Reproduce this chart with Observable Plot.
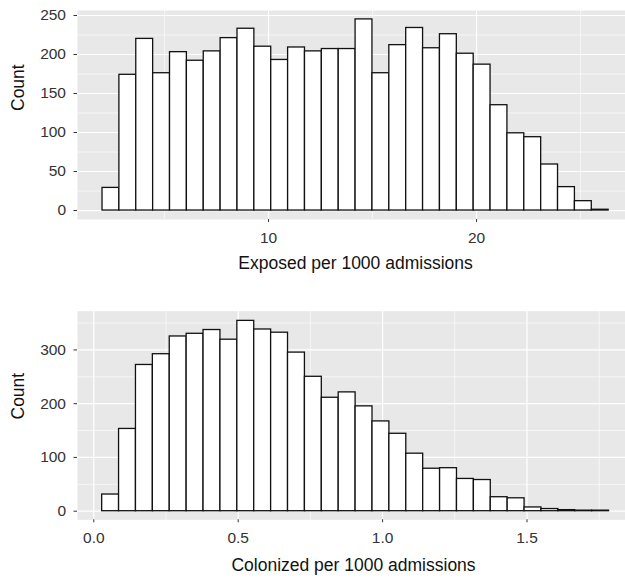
<!DOCTYPE html>
<html><head><meta charset="utf-8">
<script src="https://cdn.jsdelivr.net/npm/d3@7"></script>
<script src="https://cdn.jsdelivr.net/npm/@observablehq/plot@0.6"></script>
<style>body{margin:0;background:#fff} #chart svg{display:block}</style>
</head><body><div id="chart"></div>
<script>
const exposedCounts = [29,174,220,176,203,192,204,221,233,210,193,209,204,207,207,245,176,212,234,208,226,201,187,135,99,94,59,30,12,1];
const exposedBinStart = 2.02;
const exposedBinWidth = 0.811;
const exposedXTicks = [10, 20];
const exposedXMinor = [5, 15, 25];
const exposedYTicks = [0, 50, 100, 150, 200, 250];
const exposedYMinor = [25, 75, 125, 175, 225];

const colonizedCounts = [31,153,272,292,325,330,337,319,354,338,332,295,250,211,221,195,167,144,107,79,80,60,58,26,24,7,4,2,1,1];
const colonizedBinStart = 0.029;
const colonizedBinWidth = 0.0585;
const colonizedXTicks = [0, 0.5, 1.0, 1.5];
const colonizedXMinor = [0.25, 0.75, 1.25, 1.75];
const colonizedYTicks = [0, 100, 200, 300];
const colonizedYMinor = [50, 150, 250, 350];

const font = "'Liberation Sans', Arial, Helvetica, sans-serif";

function panel(o) {
  const data = o.counts.map((c, i) => ({x1: o.start + i * o.width, x2: o.start + (i + 1) * o.width, count: c}));
  return Plot.plot({
    width: 625, height: o.height,
    marginLeft: 77, marginRight: 0, marginTop: o.marginTop, marginBottom: o.marginBottom,
    x: {domain: o.xDomain}, y: {domain: o.yDomain},
    style: {fontFamily: font, fontSize: "15.5px", background: "white", overflow: "visible"},
    marks: [
      Plot.frame({fill: "#E8E8E8", stroke: null}),
      Plot.gridX({ticks: o.xMinor, stroke: "white", strokeOpacity: 1, strokeWidth: 0.6}),
      Plot.gridY({ticks: o.yMinor, stroke: "white", strokeOpacity: 1, strokeWidth: 0.6}),
      Plot.gridX({ticks: o.xTicks, stroke: "white", strokeOpacity: 1, strokeWidth: 1.2}),
      Plot.gridY({ticks: o.yTicks, stroke: "white", strokeOpacity: 1, strokeWidth: 1.2}),
      Plot.rectY(data, {x1: "x1", x2: "x2", y1: 0, y2: "count", fill: "white", stroke: "#111", strokeWidth: 1.3}),
      Plot.axisX({ticks: o.xTicks, tickFormat: o.xFormat, tickSize: 3, tickPadding: 9, stroke: "#333", fill: "#333", label: null}),
      Plot.axisY({ticks: o.yTicks, tickSize: 3.5, tickPadding: 8, stroke: "#333", fill: "#333", label: null}),
      Plot.text([o.xTitle], {frameAnchor: "bottom", dx: o.titleDx, dy: o.titleDy, fontSize: 17.5, fill: "#111"}),
      Plot.text(["Count"], {frameAnchor: "left", dx: -59.5, dy: o.countDy, rotate: -90, fontSize: 17.5, fill: "#111"})
    ]
  });
}

const topPanel = panel({
  counts: exposedCounts, start: exposedBinStart, width: exposedBinWidth,
  xDomain: [0.817, 27.16], yDomain: [-11.5, 256.4],
  xTicks: exposedXTicks, xMinor: exposedXMinor, yTicks: exposedYTicks, yMinor: exposedYMinor,
  xFormat: d => String(d), xTitle: "Exposed per 1000 admissions",
  height: 290, marginTop: 10, marginBottom: 71, titleDx: 4, titleDy: 49, countDy: -4
});
const bottomPanel = panel({
  counts: colonizedCounts, start: colonizedBinStart, width: colonizedBinWidth,
  xDomain: [-0.0564, 1.841], yDomain: [-16.0, 372],
  xTicks: colonizedXTicks, xMinor: colonizedXMinor, yTicks: colonizedYTicks, yMinor: colonizedYMinor,
  xFormat: d3.format(".1f"), xTitle: "Colonized per 1000 admissions",
  height: 290, marginTop: 20.7, marginBottom: 60.7, titleDx: 2, titleDy: 50.7, countDy: 4
});
document.getElementById("chart").append(topPanel, bottomPanel);
</script>
</body></html>
